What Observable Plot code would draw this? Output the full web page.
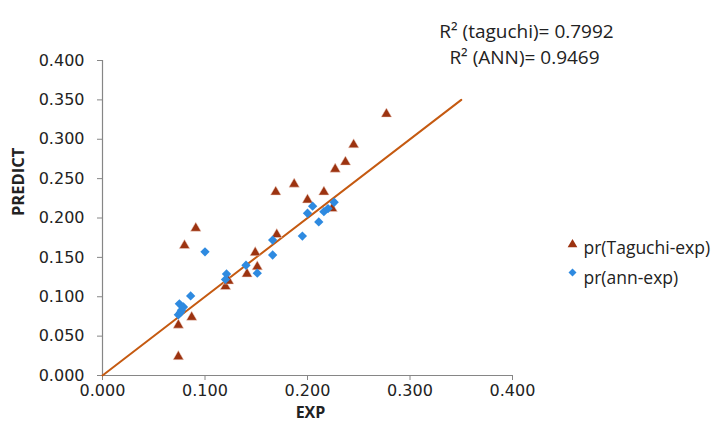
<!DOCTYPE html>
<html>
<head>
<meta charset="utf-8">
<script src="https://cdn.jsdelivr.net/npm/d3@7"></script>
<script src="https://cdn.jsdelivr.net/npm/@observablehq/plot@0.6"></script>
<style>
  html, body { margin: 0; padding: 0; background: #fff; }
</style>
</head>
<body>
<div id="chart"></div>
<script>
const xTicks = [0, 0.1, 0.2, 0.3, 0.4];
const yTicks = [0, 0.05, 0.1, 0.15, 0.2, 0.25, 0.3, 0.35, 0.4];

const taguchiExp  = [0.074, 0.074, 0.087, 0.080, 0.091, 0.120, 0.123, 0.141, 0.149, 0.151, 0.170, 0.169, 0.187, 0.200, 0.216, 0.224, 0.227, 0.237, 0.245, 0.277];
const taguchiPred = [0.024, 0.064, 0.074, 0.165, 0.187, 0.113, 0.120, 0.129, 0.156, 0.138, 0.179, 0.233, 0.243, 0.223, 0.233, 0.212, 0.262, 0.271, 0.293, 0.332];

const annExp  = [0.074, 0.075, 0.077, 0.079, 0.076, 0.086, 0.100, 0.120, 0.121, 0.140, 0.151, 0.166, 0.166, 0.195, 0.200, 0.205, 0.211, 0.216, 0.220, 0.226];
const annPred = [0.077, 0.091, 0.083, 0.087, 0.080, 0.101, 0.157, 0.122, 0.129, 0.140, 0.130, 0.153, 0.172, 0.177, 0.206, 0.215, 0.195, 0.208, 0.212, 0.220];

const lineX = [0, 0.35];
const lineY = [0, 0.35];

const r2Lines = ["R² (taguchi)= 0.7992", "R² (ANN)= 0.9469"];
const legendLabels = ["pr(Taguchi-exp)", "pr(ann-exp)"];

const taguchi = taguchiExp.map((x, i) => ({x, y: taguchiPred[i]}));
const ann = annExp.map((x, i) => ({x, y: annPred[i]}));
const fit = lineX.map((x, i) => ({x, y: lineY[i]}));

const triColor = "#9C3310";
const diaColor = "#2E8AE0";
const lineColor = "#C55A11";
const axisColor = "#868686";
const fmt = d3.format(".3f");
const labelFont = "'Open Sans', sans-serif";

const chart = Plot.plot({
  width: 712,
  height: 439,
  marginLeft: 102,
  marginRight: 200,
  marginTop: 60,
  marginBottom: 64,
  style: {fontFamily: "'DejaVu Sans', sans-serif", fontSize: "16px", color: "#222", background: "#fff"},
  x: {domain: [0, 0.4]},
  y: {domain: [0, 0.4]},
  marks: [
    Plot.axisX({ticks: xTicks, tickFormat: fmt, tickSize: 5, tickPadding: 4, stroke: axisColor, fill: "#222", label: null, fontSize: 16}),
    Plot.axisY({ticks: yTicks, tickFormat: fmt, tickSize: 5, tickPadding: 13, stroke: axisColor, fill: "#222", label: null, fontSize: 16}),
    Plot.ruleY([0], {stroke: axisColor, strokeWidth: 1.2}),
    Plot.ruleX([0], {stroke: axisColor, strokeWidth: 1.2}),
    Plot.line(fit, {x: "x", y: "y", stroke: lineColor, strokeWidth: 2}),
    Plot.dot(taguchi, {x: "x", y: "y", symbol: "triangle", r: 3.9, fill: triColor, stroke: "#f3d6cc", strokeWidth: 0.5}),
    Plot.dot(ann, {x: "x", y: "y", symbol: d3.symbolDiamond2, r: 4.2, fill: diaColor}),
    Plot.text(["EXP"], {text: d => d, frameAnchor: "bottom", dy: 42, dx: 3, fontWeight: "bold", fontSize: 16, fontFamily: labelFont, fill: "#222"}),
    Plot.text(["PREDICT"], {text: d => d, frameAnchor: "left", dx: -84, dy: -2, rotate: -90, fontWeight: "bold", fontSize: 16.5, fontFamily: labelFont, fill: "#222"}),
    Plot.text([r2Lines[0]], {text: d => d, frameAnchor: "top-right", dx: 14, dy: -36, textAnchor: "middle", fontSize: 19, fontFamily: labelFont, fill: "#222"}),
    Plot.text([r2Lines[1]], {text: d => d, frameAnchor: "top-right", dx: 12, dy: -10, textAnchor: "middle", fontSize: 19, fontFamily: labelFont, fill: "#222"}),
    Plot.dot([0], {frameAnchor: "top-right", dx: 60, dy: 184, symbol: "triangle", r: 3.6, fill: triColor}),
    Plot.dot([0], {frameAnchor: "top-right", dx: 60, dy: 212, symbol: d3.symbolDiamond2, r: 3.6, fill: diaColor}),
    Plot.text([legendLabels[0]], {text: d => d, frameAnchor: "top-right", dx: 71, dy: 181, textAnchor: "start", fontSize: 17.5, fontFamily: labelFont, fill: "#222"}),
    Plot.text([legendLabels[1]], {text: d => d, frameAnchor: "top-right", dx: 71, dy: 211, textAnchor: "start", fontSize: 17.5, fontFamily: labelFont, fill: "#222"})
  ]
});
document.getElementById("chart").appendChild(chart);
</script>
</body>
</html>
